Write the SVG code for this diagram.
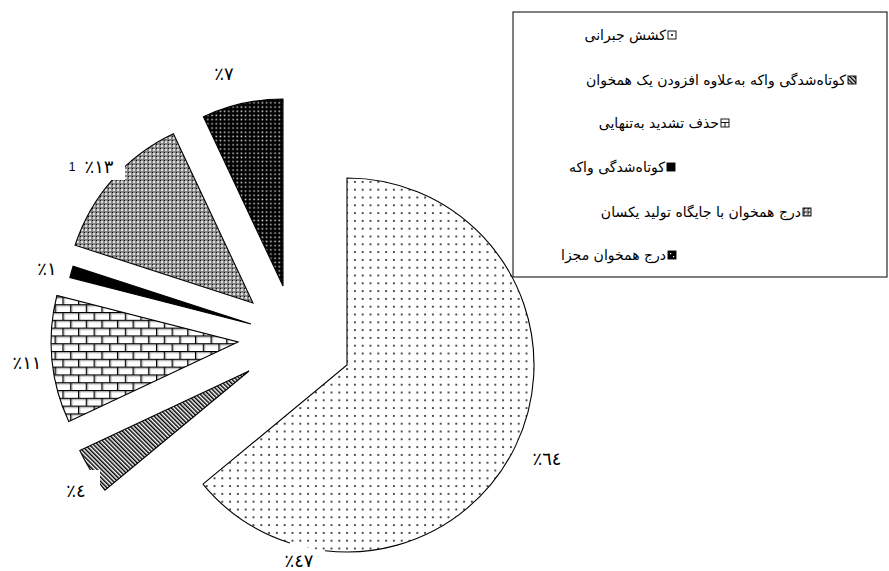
<svg xmlns="http://www.w3.org/2000/svg" width="889" height="571" viewBox="0 0 889 571">
<style>
.sl{stroke:#000;stroke-width:1.1;stroke-linejoin:miter}
.pct{font-family:"DejaVu Sans",sans-serif;font-size:18px;fill:#000;direction:ltr;unicode-bidi:bidi-override;text-anchor:middle}
.lg{font-family:"DejaVu Sans",sans-serif;font-size:14px;fill:#000;text-anchor:end}
.sw{stroke:#000;stroke-width:0.9}
</style>
<defs>
<pattern id="pDots" width="7.8" height="7.8" patternUnits="userSpaceOnUse" y="-1.4">
<rect width="7.8" height="7.8" fill="#fff"/>
<circle cx="3.9" cy="3.9" r="1.05" fill="#222"/>
</pattern>
<pattern id="pDark" width="4.2" height="4.2" patternUnits="userSpaceOnUse">
<rect width="4.2" height="4.2" fill="#000"/>
<rect x="1.3" y="1.3" width="1.5" height="1.5" fill="#d8d8d8"/>
</pattern>
<pattern id="pCheck" width="4" height="4" patternUnits="userSpaceOnUse">
<rect width="4" height="4" fill="#7a7a7a"/>
<path d="M2,0.8V3.2M0.8,2H3.2" stroke="#fff" stroke-width="1"/>
<rect x="0" y="0" width="1" height="1" fill="#111"/>
</pattern>
<pattern id="pBrick" width="15.6" height="15.6" patternUnits="userSpaceOnUse">
<rect width="15.6" height="15.6" fill="#fff"/>
<path d="M0,2H15.6M0,9.8H15.6M2.1,1.4V9.2M9.9,9.2V17" stroke="#bbb" stroke-width="0.8"/>
<path d="M0,0.6H15.6M0,8.4H15.6M0.6,0V8.4M8.4,8.4V15.6" stroke="#000" stroke-width="1.3"/>
</pattern>
<pattern id="pDiag" width="3" height="3" patternUnits="userSpaceOnUse" patternTransform="rotate(-45)">
<rect width="3" height="3" fill="#fff"/>
<rect width="1.5" height="3" fill="#000"/>
</pattern>
</defs>

<g id="slice-64">
<path d="M347,365 L347,178 A187,187 0 1 1 202.9,484.2 Z" fill="url(#pDots)"/>
<path d="M202.9,484.2 L347,365 L347,178 A187,187 0 1 1 325.0,550.7 M289.8,543.0 A187,187 0 0 1 202.9,484.2" fill="none" class="sl"/>
</g>
<g id="slice-4">
<path class="sl" d="M249,371 L104.9,490.2 A187,187 0 0 1 79.8,450.6 Z" fill="url(#pDiag)"/>
</g>
<g id="slice-11">
<path class="sl" d="M238,342 L68.8,421.6 A187,187 0 0 1 56.9,295.5 Z" fill="url(#pBrick)"/>
</g>
<g id="slice-1">
<path class="sl" d="M251,324 L69.9,277.5 A187,187 0 0 1 73.1,266.2 Z" fill="#000"/>
</g>
<g id="slice-13">
<path class="sl" d="M253,303 L75.1,245.2 A187,187 0 0 1 173.4,133.8 Z" fill="url(#pCheck)"/>
</g>
<g id="slice-7">
<path class="sl" d="M283,286 L203.4,116.8 A187,187 0 0 1 283,99 Z" fill="url(#pDark)"/>
</g>

<g id="labels">
<rect x="55" y="470" width="45" height="34" fill="#fff"/>
<rect x="62" y="150" width="63" height="30" fill="#fff"/>
<text class="pct" x="224" y="80">٪٧</text>
<text x="72" y="171" font-family="Liberation Sans, sans-serif" font-size="12" text-anchor="middle">1</text>
<text class="pct" x="99" y="173">٪١٣</text>
<text class="pct" x="47" y="275">٪١</text>
<text class="pct" x="27" y="369">٪١١</text>
<text class="pct" x="76" y="497">٪٤</text>
<text class="pct" x="547" y="465">٪٦٤</text>
<text class="pct" x="299" y="567">٪٤٧</text>
</g>

<g id="legend">
<rect x="513" y="12" width="374" height="265" fill="#fff" stroke="#000" stroke-width="1"/>
<g id="legend-1"><rect class="sw" x="668" y="31" width="8" height="8" fill="#fff"/><circle cx="672" cy="35" r="1" fill="#000"/><text class="lg" x="666" y="40">کشش جبرانی</text></g>
<g id="legend-2"><rect class="sw" x="848" y="76" width="8" height="8" fill="url(#pDiag)"/><text class="lg" x="846" y="85">کوتاه‌شدگی واکه به‌علاوه افزودن یک همخوان</text></g>
<g id="legend-3"><rect class="sw" x="721" y="119" width="8" height="8" fill="#fff"/><path d="M721,122.5H729M725,122.5V127" stroke="#000" stroke-width="0.9"/><text class="lg" x="719" y="128">حذف تشدید به‌تنهایی</text></g>
<g id="legend-4"><rect class="sw" x="667" y="163" width="8" height="8" fill="#000"/><text class="lg" x="665" y="172">کوتاه‌شدگی واکه</text></g>
<g id="legend-5"><rect class="sw" x="803" y="208" width="8" height="8" fill="url(#pCheck)"/><text class="lg" x="801" y="217">درج همخوان با جایگاه تولید یکسان</text></g>
<g id="legend-6"><rect class="sw" x="668" y="251" width="8" height="8" fill="#000"/><rect x="670" y="253" width="1.2" height="1.2" fill="#fff"/><rect x="673" y="256" width="1.2" height="1.2" fill="#fff"/><text class="lg" x="666" y="260">درج همخوان مجزا</text></g>
</g>
</svg>
